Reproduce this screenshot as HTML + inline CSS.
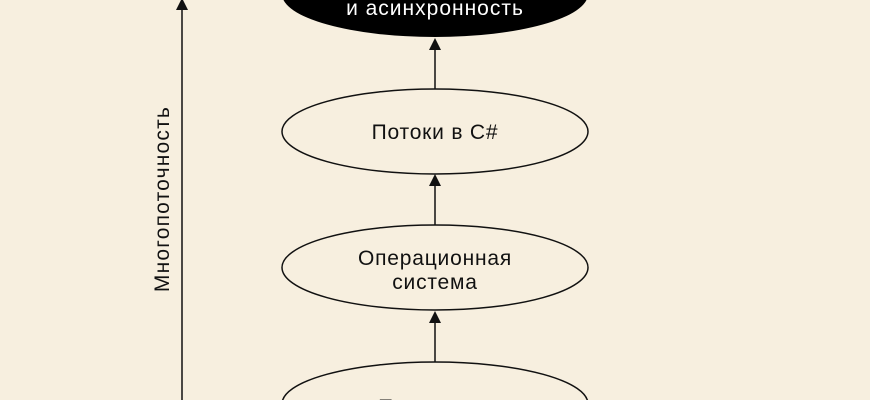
<!DOCTYPE html>
<html><head><meta charset="utf-8"><style>
html,body{margin:0;padding:0;background:#f7efdf;width:870px;height:400px;overflow:hidden;}
svg{display:block;}
text{font-family:"Liberation Sans",sans-serif;}
</style></head><body>
<svg width="870" height="400" viewBox="0 0 870 400" xmlns="http://www.w3.org/2000/svg">
<rect width="870" height="400" fill="#f7efdf"/>
<ellipse cx="435" cy="-6" rx="153" ry="43" fill="#000"/>
<text x="435" y="15" text-anchor="middle" fill="#fff" font-size="21" letter-spacing="1">и асинхронность</text>
<line x1="435" y1="89" x2="435" y2="48" stroke="#111" stroke-width="1.5"/>
<polygon points="429,50 441,50 435,38" fill="#111"/>
<ellipse cx="435" cy="131.5" rx="153" ry="42.5" fill="none" stroke="#111" stroke-width="1.5"/>
<text x="435" y="139" text-anchor="middle" fill="#111" font-size="21" letter-spacing="0.8">Потоки в C#</text>
<line x1="435" y1="225" x2="435" y2="184" stroke="#111" stroke-width="1.5"/>
<polygon points="429,186 441,186 435,174" fill="#111"/>
<ellipse cx="435" cy="267.5" rx="153" ry="42.5" fill="none" stroke="#111" stroke-width="1.5"/>
<text x="435" y="265" text-anchor="middle" fill="#111" font-size="21" letter-spacing="0.8">Операционная</text>
<text x="435" y="289" text-anchor="middle" fill="#111" font-size="21" letter-spacing="0.8">система</text>
<line x1="435" y1="362" x2="435" y2="321" stroke="#111" stroke-width="1.5"/>
<polygon points="429,323 441,323 435,311" fill="#111"/>
<ellipse cx="435" cy="404" rx="153" ry="42" fill="none" stroke="#111" stroke-width="1.5"/>
<text x="435" y="414" text-anchor="middle" fill="#111" font-size="21" letter-spacing="0.8">Процессор</text>
<line x1="182" y1="400" x2="182" y2="8" stroke="#111" stroke-width="1.5"/>
<polygon points="176,10 188,10 182,-2" fill="#111"/>
<text transform="translate(169,199) rotate(-90)" text-anchor="middle" fill="#111" font-size="21" letter-spacing="1.2">Многопоточность</text>
</svg>
</body></html>
